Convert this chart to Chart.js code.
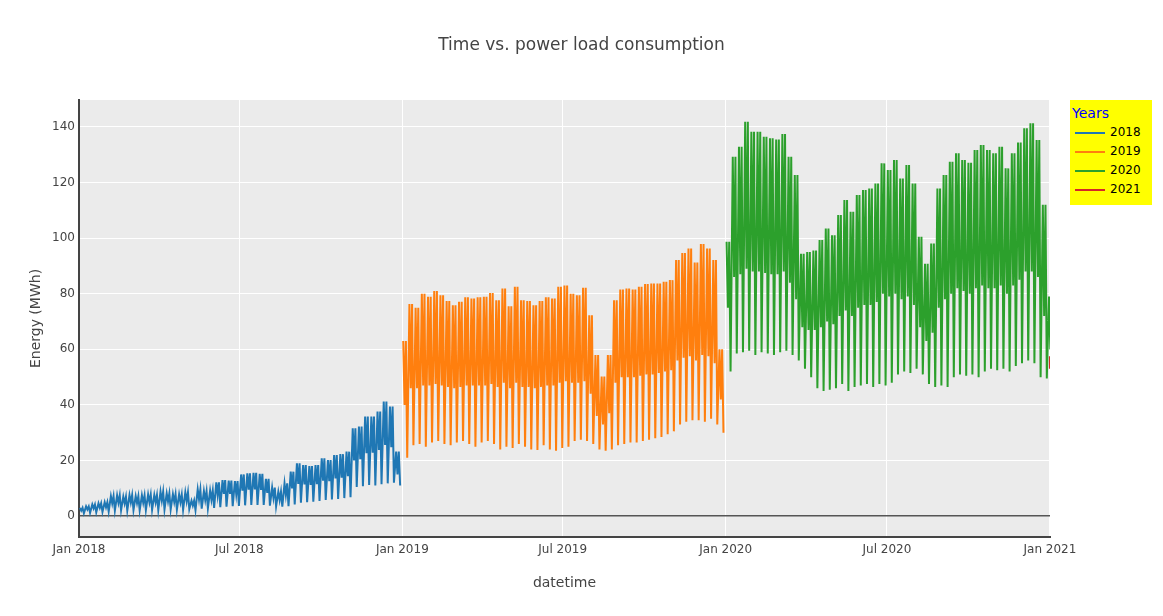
<!DOCTYPE html>
<html>
<head>
<meta charset="utf-8">
<script src="https://cdn.jsdelivr.net/npm/chart.js@4/dist/chart.umd.min.js"></script>
<style>
  body { margin: 0; background: #fff; }
  #wrap { position: relative; width: 1163px; height: 616px; font-family: "DejaVu Sans", Verdana, sans-serif; color: #444; }
  #title { position: absolute; top: 34px; left: 0; width: 1163px; text-align: center; font-size: 17px; line-height: 20px; }
  #legend { position: absolute; left: 1070px; top: 100px; width: 82px; height: 105px; background: #ffff00; }
  #legend .head { position: absolute; left: 2px; top: 5px; font-size: 14px; line-height: 16px; color: #0000ff; }
  #legend .item { position: absolute; left: 0; height: 19px; width: 82px; font-size: 12px; line-height: 19px; color: #000; }
  #legend .swatch { position: absolute; left: 5px; top: 9px; width: 30px; height: 2px; }
  #legend .label { position: absolute; left: 40px; top: 0; }
</style>
</head>
<body>
<div id="wrap">
  <canvas id="chart" width="1163" height="616"></canvas>
  <div id="title">Time vs. power load consumption</div>
  <div id="legend"><div class="head">Years</div></div>
</div>
<script>
// 시리즈 이름과 색
const seriesNames = ['2018', '2019', '2020', '2021'];
const seriesColors = ['#1f77b4', '#ff7f0e', '#2ca02c', '#d62728'];

// 각 연도 첫 주 시작일
const weekStarts = ['2018-01-01', '2019-01-01', '2020-01-01'];

// 주별 값 (평일 최고, 평일 밤, 주말 최저) - MWh
const hi2018 = [3.0, 3.5, 4.2, 4.6, 5.0, 7.2, 7.5, 7.0, 7.6, 7.2,
  7.5, 7.8, 7.6, 8.8, 8.2, 7.9, 7.8, 8.6, 5.6, 9.6,
  9.0, 9.2, 12.2, 13.0, 12.8, 12.6, 15.0, 15.4, 15.6, 15.2,
  13.4, 10.3, 8.8, 11.8, 16.0, 19.0, 18.4, 18.0, 18.4, 20.8,
  20.2, 22.0, 22.3, 23.2, 31.6, 32.2, 35.8, 35.8, 37.6, 41.2,
  39.4, 23.2];
const mid2018 = [2.0, 2.4, 2.8, 3.0, 3.2, 4.6, 4.8, 4.6, 4.9, 4.7,
  4.8, 5.0, 4.9, 5.5, 5.3, 5.1, 5.0, 5.4, 3.8, 6.0,
  5.8, 5.9, 7.6, 8.0, 8.0, 7.9, 9.2, 9.5, 9.6, 9.4,
  8.4, 6.6, 5.8, 7.6, 10.0, 11.6, 11.4, 11.2, 11.5, 12.8,
  12.6, 13.6, 13.8, 14.4, 20.0, 20.5, 22.6, 22.8, 23.8, 25.6,
  24.8, 15.0];
const lo2018 = [1.0, 1.2, 1.4, 1.5, 1.7, 2.0, 2.1, 2.0, 2.2, 2.1,
  2.2, 2.3, 2.2, 2.4, 2.4, 2.3, 2.3, 2.5, 2.2, 2.7,
  2.8, 3.0, 3.2, 3.4, 3.6, 3.7, 3.9, 4.0, 4.0, 4.0,
  3.8, 3.5, 3.4, 3.6, 4.2, 4.8, 5.0, 5.2, 5.5, 5.8,
  6.0, 6.2, 6.5, 6.8, 10.5, 10.8, 11.2, 11.0, 11.5, 11.8,
  12.0, 11.0];

const hi2019 = [63.0, 76.3, 75.0, 80.0, 78.9, 81.0, 79.5, 77.4, 75.9, 77.1,
  78.7, 78.3, 78.7, 78.9, 80.3, 77.7, 81.9, 75.5, 82.5, 77.7,
  77.4, 75.9, 77.4, 78.7, 78.3, 82.5, 83.0, 80.0, 79.5, 82.2,
  72.3, 58.0, 50.2, 58.0, 77.7, 81.5, 81.9, 81.5, 82.5, 83.5,
  83.7, 83.7, 84.3, 84.9, 92.1, 94.7, 96.3, 91.2, 97.9, 96.3,
  92.1, 60.0];
const mid2019 = [40, 46, 46, 47, 47, 47.5, 47, 46.5, 46, 46.5,
  47, 47, 47, 47, 47.5, 46.5, 48, 46, 48, 46.5,
  46.5, 46, 46.5, 47, 47, 48, 48.5, 48, 48, 48.5,
  44, 36, 33, 37, 48, 50, 50, 50, 50.5, 51,
  51, 51.5, 52, 52.5, 56, 57, 57.5, 56, 58, 57.5,
  55, 42];
const lo2019 = [21, 25.5, 26, 25, 26.5, 27, 26, 25.5, 26.5, 27,
  26, 25, 26.5, 27, 26, 24, 25, 24.5, 26, 25,
  24, 23.8, 25.5, 24, 23.5, 24.5, 25, 27, 27.5, 27,
  26, 24, 23.5, 24, 25.5, 26, 26.5, 26.5, 27, 27.5,
  28, 28.5, 29.5, 30.5, 33, 34, 34.5, 34.5, 34, 35,
  33, 30];

const hi2020 = [98.7, 129.3, 132.9, 141.9, 138.3, 138.3, 136.5, 135.9, 135.5, 137.5,
  129.3, 122.7, 94.4, 95.0, 95.6, 99.3, 103.5, 101.0, 108.3, 113.7,
  109.5, 115.5, 117.3, 117.9, 119.7, 126.9, 124.5, 128.1, 121.5, 126.3,
  119.7, 100.5, 90.8, 98.1, 117.9, 122.7, 127.5, 130.5, 128.1, 127.1,
  131.7, 133.5, 131.7, 130.5, 132.9, 125.1, 130.5, 134.4, 139.5, 141.3,
  135.3, 112.0, 79.0];
const mid2020 = [75, 86, 87, 89, 88, 88, 87.5, 87, 87, 88,
  84, 78, 68, 67, 67, 68, 70, 69, 72, 74,
  72, 75, 76, 76, 77, 80, 79, 80, 78, 79,
  76, 68, 63, 66, 75, 78, 80, 82, 81, 80,
  82, 83, 82, 82, 83, 80, 83, 85, 88, 88,
  86, 72, 60];
const lo2020 = [52, 58.5, 59, 59.5, 58, 59, 58.5, 58, 59, 59.5,
  58, 56, 53, 50, 46, 45, 45.5, 46, 47.5, 45,
  46.5, 47, 47.5, 46.5, 47.5, 47, 48, 51, 52, 51.5,
  53, 51, 47.5, 46.5, 47, 46.5, 50, 51, 50.5, 51,
  50, 52, 53, 52.5, 53, 52, 54, 55, 56, 55,
  50, 49.5, 50];

// 2021년 첫 시간들
const times2021 = ['2021-01-01T00:00Z', '2021-01-01T01:00Z', '2021-01-01T02:00Z'];
const values2021 = [57.5, 55, 53];

// 축 눈금
const xTickDates = ['2018-01-01', '2018-07-01', '2019-01-01', '2019-07-01', '2020-01-01', '2020-07-01', '2021-01-01'];
const xTickLabels = ['Jan 2018', 'Jul 2018', 'Jan 2019', 'Jul 2019', 'Jan 2020', 'Jul 2020', 'Jan 2021'];
const yTicks = [0, 20, 40, 60, 80, 100, 120, 140];

const origin = Date.parse('2018-01-01T00:00Z');
const dayIndex = s => (Date.parse(s) - origin) / 86400000;

// 한 주를 평일(최고-밤-최고) 다음 주말(최저) 순서로 점 배치
function weekPoints(start, hi, mid, lo) {
    const d0 = dayIndex(start);
    const pts = [];
    hi.forEach((h, k) => {
        const w = d0 + 7 * k;
        pts.push({ x: w + 1, y: h }, { x: w + 2.5, y: mid[k] }, { x: w + 4, y: h }, { x: w + 5.5, y: lo[k] });
    });
    return pts;
}

const seriesPoints = [
    weekPoints(weekStarts[0], hi2018, mid2018, lo2018),
    weekPoints(weekStarts[1], hi2019, mid2019, lo2019),
    weekPoints(weekStarts[2], hi2020, mid2020, lo2020),
    times2021.map((t, i) => ({ x: dayIndex(t), y: values2021[i] }))
];

// 범례
const legend = document.getElementById('legend');
seriesNames.forEach((name, i) => {
    const item = document.createElement('div');
    item.className = 'item';
    item.style.top = (23 + 19 * i) + 'px';
    item.innerHTML = `<span class="swatch" style="background:${seriesColors[i]}"></span><span class="label">${name}</span>`;
    legend.appendChild(item);
});

const plotBg = {
    id: 'plotBg',
    beforeDraw(chart) {
        const { ctx, chartArea: a } = chart;
        ctx.save();
        ctx.fillStyle = '#ebebeb';
        ctx.fillRect(a.left, a.top, a.right - a.left, a.bottom - a.top);
        ctx.restore();
    }
};

const tickFont = { family: '"DejaVu Sans", Verdana, sans-serif', size: 12 };
const titleFont = { family: '"DejaVu Sans", Verdana, sans-serif', size: 14 };

new Chart(document.getElementById('chart'), {
    type: 'line',
    data: {
        datasets: seriesPoints.map((pts, i) => ({
            label: seriesNames[i],
            data: pts,
            borderColor: seriesColors[i],
            backgroundColor: seriesColors[i],
            borderWidth: 2,
            pointRadius: 0,
            tension: 0,
            fill: false
        }))
    },
    options: {
        responsive: false,
        animation: false,
        parsing: false,
        layout: { padding: { left: 0, right: 113, top: 100, bottom: 0 } },
        plugins: { legend: { display: false }, title: { display: false }, tooltip: { enabled: false } },
        scales: {
            x: {
                type: 'linear',
                min: 0,
                max: dayIndex('2021-01-01T02:24Z'),
                afterBuildTicks: s => { s.ticks = xTickDates.map(d => ({ value: dayIndex(d) })); },
                afterFit: s => { s.height = 79; },
                ticks: {
                    autoSkip: false, maxRotation: 0, color: '#444', font: tickFont, padding: 6,
                    callback: (v, i) => xTickLabels[i]
                },
                grid: { color: '#ffffff', lineWidth: 1, drawTicks: false },
                border: { display: true, color: '#444', width: 2 },
                title: { display: true, text: 'datetime', color: '#444', font: titleFont, padding: { top: 0, bottom: 24 } }
            },
            y: {
                type: 'linear',
                min: -7.5,
                max: 149.7,
                afterBuildTicks: s => { s.ticks = yTicks.map(v => ({ value: v })); },
                afterFit: s => { s.width = 79; },
                ticks: { color: '#444', font: tickFont, padding: 4 },
                grid: {
                    color: c => (c.tick && c.tick.value === 0 ? '#555555' : '#ffffff'),
                    lineWidth: c => (c.tick && c.tick.value === 0 ? 1.5 : 1),
                    drawTicks: false
                },
                border: { display: true, color: '#444', width: 2 },
                title: { display: true, text: 'Energy (MWh)', color: '#444', font: titleFont, padding: { top: 28, bottom: 0 } }
            }
        }
    },
    plugins: [plotBg]
});
</script>
</body>
</html>
